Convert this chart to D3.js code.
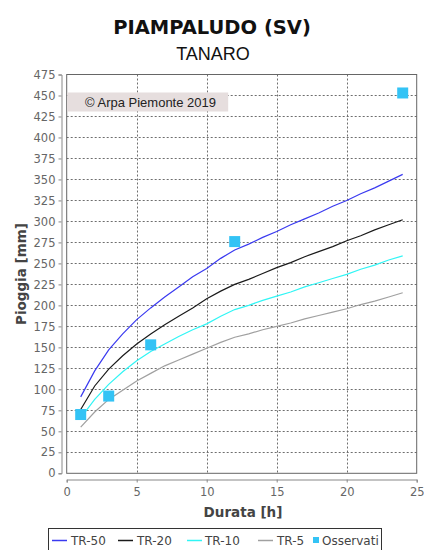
<!DOCTYPE html>
<html>
<head>
<meta charset="utf-8">
<script src="https://cdn.jsdelivr.net/npm/d3@7"></script>
<style>
  html, body { margin: 0; padding: 0; background: #fff; }
  svg { display: block; }
</style>
</head>
<body>
<div id="chart"></div>
<script>
// Durations (hours) at which the return-period curves are sampled
const durations = [1, 2, 3, 4, 5, 6, 7, 8, 9, 10, 11, 12, 13, 14, 15, 16, 17, 18, 19, 20, 21, 22, 23, 24];

// Rainfall depth (mm) for each return period
const tr50 = [91, 122, 147, 166, 183, 197, 210, 222, 234, 244, 256, 266, 273, 281, 288, 296, 303, 310, 318, 325, 333, 340, 348, 356];
const tr20 = [76, 104, 124, 140, 154, 166, 177, 187, 197, 208, 217, 225, 231, 238, 245, 251, 258, 264, 270, 277, 283, 290, 296, 302];
const tr10 = [66, 88, 106, 121, 134, 145, 154, 163, 171, 178, 187, 195, 200, 206, 211, 216, 222, 227, 232, 237, 243, 248, 254, 259];
const tr5  = [55, 73, 88, 99, 110, 119, 128, 135, 142, 149, 156, 162, 166, 171, 175, 179, 184, 188, 192, 196, 201, 205, 210, 215];

// Observed maxima
const obsDurations = [1, 3, 6, 12, 24];
const obsValues = [70, 92, 153, 276, 453];

const xTicks = [0, 5, 10, 15, 20, 25];
const yTicks = d3.range(0, 476, 25);

const seriesNames = ["TR-50", "TR-20", "TR-10", "TR-5"];
const seriesColors = ["#3a3af0", "#1a1a1a", "#30f5f5", "#a0a0a0"];
const seriesValues = [tr50, tr20, tr10, tr5];
const obsName = "Osservati";
const obsColor = "#33c3f5";

const W = 424, H = 550;
const plot = { left: 66.7, right: 416.7, top: 74.5, bottom: 473.3 };

const svg = d3.select("#chart").append("svg")
  .attr("width", W).attr("height", H)
  .style("font-family", "'DejaVu Sans', sans-serif");

const x = d3.scaleLinear().domain([0, 25]).range([plot.left, plot.right]);
const y = d3.scaleLinear().domain([0, 475]).range([plot.bottom, plot.top]);

// Titles
svg.append("text").attr("x", 212).attr("y", 33.5)
  .attr("text-anchor", "middle")
  .style("font-family", "'DejaVu Sans', sans-serif")
  .style("font-weight", "bold").style("font-size", "19.5px").attr("fill", "#111")
  .text("PIAMPALUDO (SV)");
svg.append("text").attr("x", 213).attr("y", 60)
  .attr("text-anchor", "middle")
  .style("font-family", "'Liberation Sans', Arial, sans-serif")
  .style("font-size", "18px").attr("fill", "#111")
  .text("TANARO");

// Dashed grid
const grid = svg.append("g").attr("stroke", "#6e6e6e").attr("stroke-dasharray", "2,2").attr("stroke-width", 1);
grid.selectAll("line.h").data(yTicks.filter(d => d > 0 && d < 475)).join("line")
  .attr("class", "h")
  .attr("x1", plot.left).attr("x2", plot.right)
  .attr("y1", d => Math.round(y(d)) + 0.5).attr("y2", d => Math.round(y(d)) + 0.5);
grid.selectAll("line.v").data(xTicks.filter(d => d > 0 && d < 25)).join("line")
  .attr("class", "v")
  .attr("y1", plot.top).attr("y2", plot.bottom)
  .attr("x1", d => Math.round(x(d)) + 0.5).attr("x2", d => Math.round(x(d)) + 0.5);

// Plot frame
svg.append("rect")
  .attr("x", plot.left).attr("y", plot.top)
  .attr("width", plot.right - plot.left).attr("height", plot.bottom - plot.top)
  .attr("fill", "none").attr("stroke", "#666").attr("stroke-width", 1);

// Copyright banner
svg.append("rect").attr("x", plot.left + 0.5).attr("y", 92.5)
  .attr("width", 161).attr("height", 19).attr("fill", "#e6dede");
svg.append("text").attr("x", 85).attr("y", 106.5)
  .style("font-family", "'Liberation Sans', Arial, sans-serif")
  .style("font-size", "13px").attr("fill", "#222")
  .text("© Arpa Piemonte 2019");

// Axes, offset from the frame
const yAxis = d3.axisLeft(y).tickValues(yTicks).tickSize(3).tickPadding(3).tickFormat(d3.format("d"));
const gy = svg.append("g").attr("transform", "translate(61.5,0)").call(yAxis);
const xAxis = d3.axisBottom(x).tickValues(xTicks).tickSize(3).tickPadding(5).tickFormat(d3.format("d"));
const gx = svg.append("g").attr("transform", "translate(0,479.5)").call(xAxis);
[gy, gx].forEach(g => {
  g.select(".domain").attr("stroke", "#888");
  g.selectAll(".tick line").attr("stroke", "#888");
  g.selectAll(".tick text").attr("fill", "#666")
    .style("font-family", "'DejaVu Sans', sans-serif").style("font-size", "11.5px");
});

// Axis titles
svg.append("text").attr("x", 243).attr("y", 517)
  .attr("text-anchor", "middle")
  .style("font-weight", "bold").style("font-size", "13.5px").attr("fill", "#444")
  .text("Durata [h]");
svg.append("text")
  .attr("transform", "translate(26,274) rotate(-90)")
  .attr("text-anchor", "middle")
  .style("font-weight", "bold").style("font-size", "13.5px").attr("fill", "#444")
  .text("Pioggia [mm]");

// Return-period curves
const line = d3.line().x((d, i) => x(durations[i])).y(d => y(d));
// draw lightest first so the blue curve sits on top
[3, 2, 1, 0].forEach(k => {
  svg.append("path").datum(seriesValues[k])
    .attr("d", line)
    .attr("fill", "none")
    .attr("stroke", seriesColors[k])
    .attr("stroke-width", 1.2);
});

// Observed points
svg.selectAll("rect.obs").data(obsValues).join("rect")
  .attr("class", "obs")
  .attr("x", (d, i) => x(obsDurations[i]) - 5.5)
  .attr("y", d => y(d) - 5.5)
  .attr("width", 11).attr("height", 11)
  .attr("fill", obsColor);

// Legend
const leg = svg.append("g");
leg.append("rect").attr("x", 48.5).attr("y", 528.5).attr("width", 333).attr("height", 30)
  .attr("fill", "#fff").attr("stroke", "#333").attr("stroke-width", 1);
const legLineX = [52, 118, 187, 258];
const legTextX = [71, 137, 205, 277];
seriesNames.forEach((n, i) => {
  leg.append("line").attr("x1", legLineX[i]).attr("x2", legLineX[i] + 15)
    .attr("y1", 540.5).attr("y2", 540.5)
    .attr("stroke", seriesColors[i]).attr("stroke-width", 1.5);
  leg.append("text").attr("x", legTextX[i]).attr("y", 545)
    .style("font-size", "12px").attr("fill", "#444").text(n);
});
leg.append("rect").attr("x", 313).attr("y", 537).attr("width", 6).attr("height", 6).attr("fill", obsColor);
leg.append("text").attr("x", 322).attr("y", 545)
  .style("font-size", "12px").attr("fill", "#444").text(obsName);
</script>
</body>
</html>
